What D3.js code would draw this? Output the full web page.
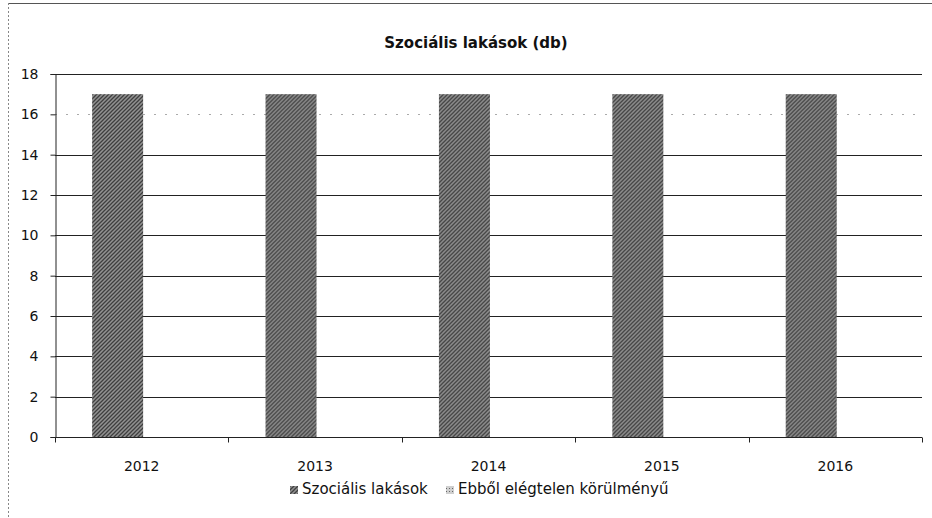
<!DOCTYPE html>
<html>
<head>
<meta charset="utf-8">
<script src="https://cdn.jsdelivr.net/npm/d3@7"></script>
<style>
  body { margin: 0; background: #fff; }
  svg { font-family: "DejaVu Sans", sans-serif; }
</style>
</head>
<body>
<svg id="chart" width="932" height="518"></svg>
<script>
const years = ['2012', '2013', '2014', '2015', '2016'];
const seriesNames = ['Szociális lakások', 'Ebből elégtelen körülményű'];
const szocialis = [17, 17, 17, 17, 17];
const elegtelen = [0, 0, 0, 0, 0];
const yTicks = [0, 2, 4, 6, 8, 10, 12, 14, 16, 18];

const margin = { top: 74, right: 10, bottom: 81, left: 55 };
const width = 932, height = 518;

let svg = d3.select('#chart');

// hatched grey fill like the printed bars
let defs = svg.append('defs');
let pat = defs.append('pattern')
    .attr('id', 'hatch')
    .attr('patternUnits', 'userSpaceOnUse')
    .attr('width', 4)
    .attr('height', 4);
pat.append('rect').attr('width', 4).attr('height', 4).attr('fill', '#929292');
pat.append('path')
    .attr('d', 'M0,4 L4,0 M-1,1 L1,-1 M3,5 L5,3')
    .attr('stroke', '#3f3f3f')
    .attr('stroke-width', 1.3);

let pat2 = defs.append('pattern')
    .attr('id', 'dots')
    .attr('patternUnits', 'userSpaceOnUse')
    .attr('width', 3)
    .attr('height', 3);
pat2.append('rect').attr('width', 3).attr('height', 3).attr('fill', '#cfcfcf');
pat2.append('rect').attr('width', 1).attr('height', 1).attr('fill', '#666');

// chart frame (scanned edges)
svg.append('line')
    .attr('x1', 8).attr('x2', 932).attr('y1', 3.5).attr('y2', 3.5)
    .attr('stroke', '#555').attr('stroke-width', 1);
svg.append('line')
    .attr('x1', 8.5).attr('x2', 8.5).attr('y1', 3).attr('y2', 518)
    .attr('stroke', '#888').attr('stroke-width', 1)
    .attr('stroke-dasharray', '2,2');

svg.append('text')
    .attr('x', 476)
    .attr('y', 48)
    .attr('text-anchor', 'middle')
    .attr('font-size', 15)
    .attr('font-weight', 'bold')
    .attr('fill', '#111')
    .text('Szociális lakások (db)');

let x = d3.scaleBand()
    .domain(years)
    .range([margin.left, width - margin.right])
    .paddingInner(0)
    .paddingOuter(0);

let xInner = d3.scaleBand()
    .domain(seriesNames)
    .range([0, x.bandwidth()])
    .paddingOuter(0.7)
    .paddingInner(0)
    .align(0.52);

let y = d3.scaleLinear()
    .domain([0, 18])
    .range([height - margin.bottom, margin.top]);

// gridlines (the 16 line is barely visible on the scan)
svg.append('g')
    .selectAll('line')
    .data(yTicks.filter(d => d > 0))
    .enter()
    .append('line')
    .attr('x1', margin.left)
    .attr('x2', width - margin.right)
    .attr('y1', d => Math.round(y(d)) + 0.5)
    .attr('y2', d => Math.round(y(d)) + 0.5)
    .attr('stroke', d => d === 16 ? '#aaa' : '#222')
    .attr('stroke-dasharray', d => d === 16 ? '2,9' : null)
    .attr('stroke-width', 1);

// y axis
let yAxis = svg.append('g')
    .attr('transform', `translate(${margin.left + 0.5},0)`)
    .call(d3.axisLeft(y).tickValues(yTicks).tickSize(5).tickPadding(12));
yAxis.selectAll('text')
    .attr('font-size', 14)
    .attr('fill', '#111')
    .attr('font-family', '"DejaVu Sans", sans-serif');
yAxis.selectAll('line, path').attr('stroke', '#222');

// bars
let groups = svg.append('g')
    .selectAll('g')
    .data(years)
    .enter()
    .append('g')
    .attr('transform', d => `translate(${x(d)},0)`);

groups.append('rect')
    .attr('x', xInner(seriesNames[0]))
    .attr('y', (d, i) => y(szocialis[i]))
    .attr('width', xInner.bandwidth())
    .attr('height', (d, i) => y(0) - y(szocialis[i]))
    .attr('fill', 'url(#hatch)');

groups.append('rect')
    .attr('x', xInner(seriesNames[1]))
    .attr('y', (d, i) => y(elegtelen[i]))
    .attr('width', xInner.bandwidth())
    .attr('height', (d, i) => y(0) - y(elegtelen[i]))
    .attr('fill', 'url(#dots)');

// x axis with ticks between categories
let xAxis = svg.append('g')
    .attr('transform', `translate(0,${Math.round(y(0)) + 0.5})`);
xAxis.append('line')
    .attr('x1', margin.left).attr('x2', width - margin.right)
    .attr('stroke', '#222');
xAxis.selectAll('line.tick')
    .data(years.concat(['end']))
    .enter()
    .append('line')
    .attr('class', 'tick')
    .attr('x1', (d, i) => Math.round(margin.left + i * x.step()) + 0.5)
    .attr('x2', (d, i) => Math.round(margin.left + i * x.step()) + 0.5)
    .attr('y1', 0).attr('y2', 5)
    .attr('stroke', '#222');
xAxis.selectAll('text')
    .data(years)
    .enter()
    .append('text')
    .attr('x', d => x(d) + x.bandwidth() / 2)
    .attr('y', 33)
    .attr('text-anchor', 'middle')
    .attr('font-size', 14)
    .attr('fill', '#111')
    .text(d => d);

// legend
let legend = svg.append('g').attr('transform', 'translate(290,494)');
let items = [
    { name: seriesNames[0], fill: 'url(#hatch)', x: 0 },
    { name: seriesNames[1], fill: 'url(#dots)', x: 156 }
];
let li = legend.selectAll('g')
    .data(items)
    .enter()
    .append('g')
    .attr('transform', d => `translate(${d.x},0)`);
li.append('rect')
    .attr('x', 0).attr('y', -8)
    .attr('width', 8).attr('height', 8)
    .attr('fill', d => d.fill);
li.append('text')
    .attr('x', 12)
    .attr('y', 0)
    .attr('font-size', 15)
    .attr('fill', '#111')
    .text(d => d.name);
</script>
</body>
</html>
